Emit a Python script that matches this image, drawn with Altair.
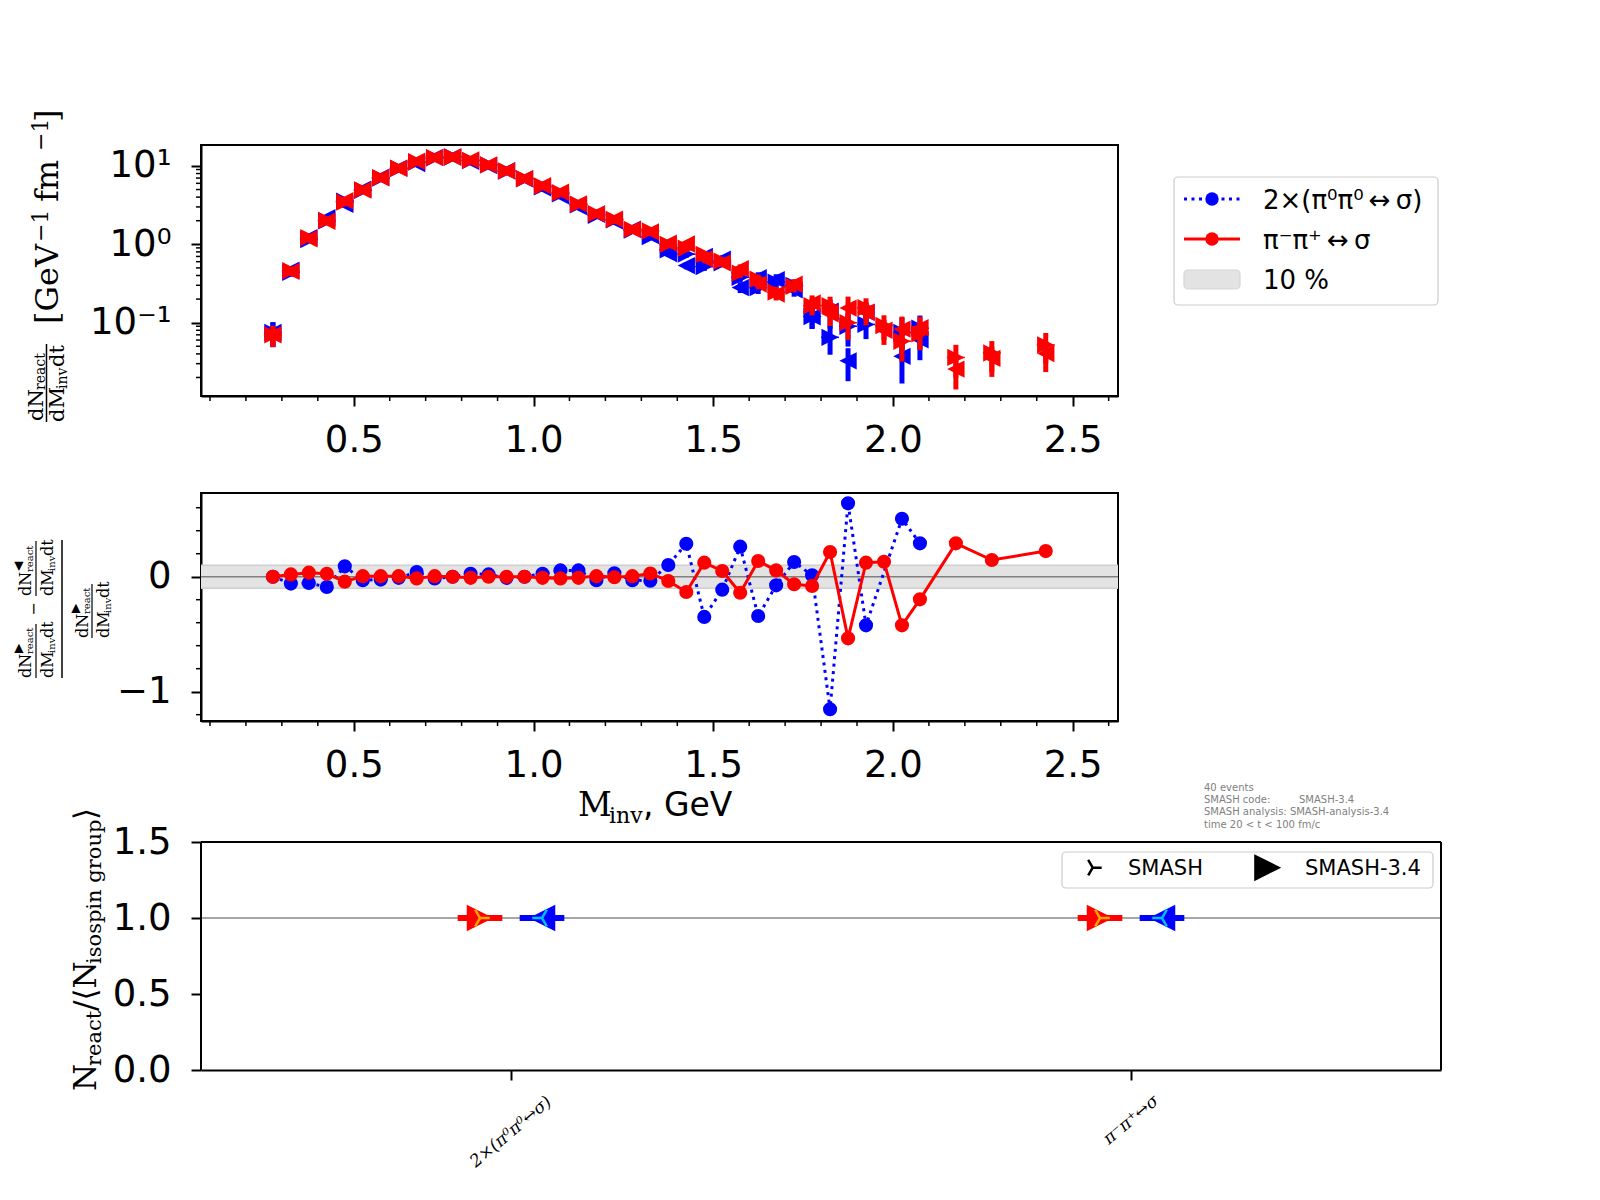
import altair as alt
import pandas as pd

# ---------------- data ----------------
X_BLUE = [0.275, 0.325, 0.375, 0.425, 0.475, 0.525, 0.575, 0.625, 0.675, 0.725,
          0.775, 0.825, 0.875, 0.925, 0.975, 1.025, 1.075, 1.125, 1.175, 1.225,
          1.275, 1.325, 1.375, 1.425, 1.475, 1.525, 1.575, 1.625, 1.675, 1.725,
          1.775, 1.825, 1.875, 1.925, 2.025, 2.075]
X_RED = [0.275, 0.325, 0.375, 0.425, 0.475, 0.525, 0.575, 0.625, 0.675, 0.725,
         0.775, 0.825, 0.875, 0.925, 0.975, 1.025, 1.075, 1.125, 1.175, 1.225,
         1.275, 1.325, 1.375, 1.425, 1.475, 1.525, 1.575, 1.625, 1.675, 1.725,
         1.775, 1.825, 1.875, 1.925, 1.975, 2.025, 2.075, 2.175, 2.275, 2.425]

# dN/dM dt of the forward reaction (right-pointing triangles)
BLUE_RATE = [0.075, 0.44, 1.15, 2.0, 3.55, 4.9, 7.0, 9.3, 11.2, 12.7,
             13.0, 11.7, 10.3, 8.6, 6.85, 5.4, 4.4, 3.2, 2.35, 2.05,
             1.52, 1.25, 0.85, 0.75, 0.52, 0.58, 0.38, 0.28, 0.33, 0.30,
             0.12, 0.065, 0.09, 0.095, 0.075, 0.085]
RED_RATE = [0.070, 0.46, 1.22, 2.02, 3.45, 4.95, 7.1, 9.35, 11.3, 12.8,
            13.0, 11.8, 10.3, 8.65, 6.9, 5.55, 4.55, 3.25, 2.46, 2.08,
            1.55, 1.48, 1.0, 0.89, 0.745, 0.61, 0.43, 0.36, 0.245, 0.29,
            0.165, 0.165, 0.10, 0.155, 0.092, 0.058, 0.072, 0.036, 0.041, 0.052]
# relative statistical errors
BLUE_ERR = [0.35, 0.12, 0.07, 0.05, 0.04, 0.04, 0.03, 0.03, 0.03, 0.03,
            0.03, 0.03, 0.03, 0.03, 0.04, 0.04, 0.04, 0.05, 0.05, 0.06,
            0.07, 0.08, 0.09, 0.10, 0.12, 0.12, 0.15, 0.17, 0.17, 0.18,
            0.30, 0.40, 0.45, 0.35, 0.55, 0.45]
RED_ERR = [0.30, 0.10, 0.06, 0.05, 0.04, 0.04, 0.03, 0.03, 0.03, 0.03,
           0.03, 0.03, 0.03, 0.03, 0.04, 0.04, 0.04, 0.05, 0.05, 0.06,
           0.07, 0.07, 0.08, 0.09, 0.10, 0.11, 0.13, 0.14, 0.17, 0.16,
           0.25, 0.30, 0.40, 0.32, 0.35, 0.45, 0.38, 0.45, 0.42, 0.42]
# (forward - backward) / forward
BLUE_DIFF = [0.0, -0.06, -0.055, -0.09, 0.09, -0.03, -0.025, -0.01, 0.04, -0.015,
             0.0, 0.025, 0.02, -0.01, 0.0, 0.025, 0.055, 0.055, -0.03, 0.03,
             -0.03, -0.035, 0.102, 0.287, -0.35, -0.113, 0.261, -0.342, -0.075, 0.128,
             0.012, -1.153, 0.638, -0.423, 0.504, 0.29]
RED_DIFF = [0.0, 0.02, 0.035, 0.025, -0.043, 0.005, 0.005, 0.005, -0.015, 0.005,
            0.0, -0.01, 0.0, 0.0, 0.0, -0.01, -0.015, -0.01, 0.005, -0.005,
            0.005, 0.028, -0.037, -0.133, 0.122, 0.05, -0.14, 0.137, 0.055, -0.066,
            -0.08, 0.215, -0.536, 0.122, 0.13, -0.423, -0.197, 0.29, 0.145, 0.223]

CATEGORIES = ["2×(π⁰π⁰↔σ)", "π⁻π⁺↔σ"]
RATIO_RED = [1.0, 1.0]
RATIO_BLUE = [1.0, 1.0]

X_TICKS = [0.5, 1.0, 1.5, 2.0, 2.5]
MINOR_X = [0.1, 0.2, 0.3, 0.4, 0.6, 0.7, 0.8, 0.9, 1.1, 1.2, 1.3, 1.4, 1.6, 1.7,
           1.8, 1.9, 2.1, 2.2, 2.3, 2.4, 2.6]
LOG_TICKS = [0.1, 1, 10]
MINOR_LOG = [0.02, 0.03, 0.04, 0.05, 0.06, 0.07, 0.08, 0.09,
             0.2, 0.3, 0.4, 0.5, 0.6, 0.7, 0.8, 0.9,
             2, 3, 4, 5, 6, 7, 8, 9]
MID_TICKS = [-1, 0]
MINOR_MID = [-1.2, -0.8, -0.6, -0.4, -0.2, 0.2, 0.4, 0.6]
BOT_TICKS = [0, 0.5, 1.0, 1.5]

LEGEND_TOP = ["2×(π⁰π⁰\u2009↔\u2009σ)", "π⁻π⁺\u2009↔\u2009σ", "10 %"]
LEGEND_BOT = ["SMASH", "SMASH-3.4"]
ANNOT = ["40 events", "SMASH code:", "SMASH analysis: SMASH-analysis-3.4",
         "time 20 < t < 100 fm/c"]

# ---------------- layout ----------------
SERIF = "DejaVu Serif"
SANS = "DejaVu Sans"
BLUE = "#0000ff"
RED = "#ff0000"
DUMMY = pd.DataFrame({"k": [0]})

TOP_W, TOP_H = 917, 251
MID_W, MID_H = 917, 228
BOT_W, BOT_H = 1240, 252
TOP_O = (200, 144)
MID_O = (200, 492)
BOT_O = (200, 817)

XS = alt.Scale(domain=[0.075, 2.626], nice=False, zero=False)
YS_T = alt.Scale(type="log", domain=[0.0116, 18.5], nice=False)
YS_M = alt.Scale(domain=[-1.255, 0.728], nice=False, zero=False)
XS_B = alt.Scale(domain=[-0.5, 1.5], nice=False, zero=False)
YS_B = alt.Scale(domain=[0, 1.658], nice=False, zero=False)

XAX = alt.Axis(values=X_TICKS, format=".1f", title=None, labelPadding=16)
YAX_T = alt.Axis(values=LOG_TICKS, title=None, labelPadding=20,
                 labelExpr="datum.value > 5 ? '10¹' : (datum.value > 0.5 ? '10⁰' : '10⁻¹')")
YAX_M = alt.Axis(values=MID_TICKS, title=None, labelPadding=20,
                 labelExpr="datum.value < -0.5 ? '−1' : '0'")
XAX_B = alt.Axis(values=[0, 1], labels=False, title=None)
YAX_B = alt.Axis(values=BOT_TICKS, format=".1f", title=None, labelPadding=20, domain=False)

TRI_R = "M-1,-1L1,0L-1,1Z"
TRI_L = "M1,-1L-1,0L1,1Z"
Y_R = "M0,0L1,0M0,0L-0.5,-0.866M0,0L-0.5,0.866"
Y_L = "M0,0L-1,0M0,0L0.5,-0.866M0,0L0.5,0.866"


def txt(origin, s, x, y, size, font=SERIF, angle=270, align="left",
        baseline="alphabetic", color="black", style="normal"):
    ox, oy = origin
    return alt.Chart(DUMMY).mark_text(
        text=s, font=font, fontSize=size, angle=angle, align=align,
        baseline=baseline, color=color, fontStyle=style
    ).encode(x=alt.value(x - ox), y=alt.value(y - oy))


def vbar(origin, x, y1, y2, w=1.3, color="black"):
    ox, oy = origin
    return alt.Chart(DUMMY).mark_rule(color=color, strokeWidth=w).encode(
        x=alt.value(x - ox), y=alt.value(y1 - oy), y2=alt.value(y2 - oy))


def hbar(origin, x1, x2, y, w=1.3, color="black", dash=None):
    ox, oy = origin
    kw = dict(color=color, strokeWidth=w)
    if dash is not None:
        kw["strokeDash"] = dash
    return alt.Chart(DUMMY).mark_rule(**kw).encode(
        x=alt.value(x1 - ox), x2=alt.value(x2 - ox), y=alt.value(y - oy))


def sym(origin, shape, x, y, size, color, filled=True, sw=1.0):
    ox, oy = origin
    return alt.Chart(DUMMY).mark_point(
        shape=shape, filled=filled, size=size, color=color, opacity=1, strokeWidth=sw
    ).encode(x=alt.value(x - ox), y=alt.value(y - oy))


def box(origin, x1, x2, y1, y2, fill="white", stroke="#cccccc"):
    ox, oy = origin
    return alt.Chart(DUMMY).mark_rect(
        fill=fill, stroke=stroke, strokeWidth=1.2, cornerRadius=4
    ).encode(x=alt.value(x1 - ox), x2=alt.value(x2 - ox),
             y=alt.value(y1 - oy), y2=alt.value(y2 - oy))


# ---------------- top panel ----------------
def top_df(xs, rate, err, diff):
    df = pd.DataFrame({"m": xs, "fwd": rate, "err": err, "diff": diff})
    df["bwd"] = df["fwd"] * (1 - df["diff"])
    df["lo_f"] = df["fwd"] * (1 - df["err"])
    df["hi_f"] = df["fwd"] * (1 + df["err"])
    df["lo_b"] = df["bwd"] * (1 - df["err"])
    df["hi_b"] = df["bwd"] * (1 + df["err"])
    df["ml"] = df["m"] - 0.025
    df["mr"] = df["m"] + 0.025
    return df


def top_series(df, color):
    b = alt.Chart(df)
    x = alt.X("m:Q", scale=XS, axis=XAX)
    out = []
    for lo, hi in (("lo_f", "hi_f"), ("lo_b", "hi_b")):
        out.append(b.mark_rule(color=color, strokeWidth=5).encode(
            x=x, y=alt.Y(f"{lo}:Q", scale=YS_T, axis=YAX_T), y2=f"{hi}:Q"))
    out.append(b.mark_rule(color=color, strokeWidth=1.5).encode(
        x=alt.X("ml:Q", scale=XS, axis=XAX), x2="mr:Q",
        y=alt.Y("fwd:Q", scale=YS_T, axis=YAX_T)))
    out.append(b.mark_point(shape=TRI_R, filled=True, size=300, color=color, opacity=1).encode(
        x=x, y=alt.Y("fwd:Q", scale=YS_T, axis=YAX_T)))
    out.append(b.mark_point(shape=TRI_L, filled=True, size=300, color=color, opacity=1).encode(
        x=x, y=alt.Y("bwd:Q", scale=YS_T, axis=YAX_T)))
    return out


df_tb = top_df(X_BLUE, BLUE_RATE, BLUE_ERR, BLUE_DIFF)
df_tr = top_df(X_RED, RED_RATE, RED_ERR, RED_DIFF)

T = TOP_O
top_layers = []
# white anchor fixing the top-left corner of the whole drawing at the page margin
top_layers.append(alt.Chart(DUMMY).mark_rule(color="white", strokeWidth=1).encode(
    x=alt.value(8.5 - T[0]), x2=alt.value(10 - T[0]), y=alt.value(8.5 - T[1])))
top_layers.append(alt.Chart(pd.DataFrame({"v": MINOR_X})).mark_rule(color="black", strokeWidth=1.5).encode(
    x=alt.X("v:Q", scale=XS, axis=XAX), y=alt.value(TOP_H), y2=alt.value(TOP_H + 5)))
top_layers.append(alt.Chart(pd.DataFrame({"v": MINOR_LOG})).mark_rule(color="black", strokeWidth=1.5).encode(
    y=alt.Y("v:Q", scale=YS_T, axis=YAX_T), x=alt.value(0), x2=alt.value(-5)))
top_layers += top_series(df_tb, BLUE)
top_layers += top_series(df_tr, RED)

# legend of top panel
top_layers += [
    box(T, 1173, 1437, 176, 304),
    hbar(T, 1183, 1239, 198, w=3, color=BLUE, dash=[3, 4.5]),
    sym(T, "circle", 1211, 198, 180, BLUE),
    txt(T, LEGEND_TOP[0], 1262, 208, 26, font=SANS, angle=0),
    hbar(T, 1183, 1239, 238, w=3, color=RED),
    sym(T, "circle", 1211, 238, 180, RED),
    txt(T, LEGEND_TOP[1], 1262, 248, 26, font=SANS, angle=0),
    box(T, 1183, 1239, 269, 288, fill="#e3e3e3", stroke="#d5d5d5"),
    txt(T, LEGEND_TOP[2], 1262, 288, 26, font=SANS, angle=0),
]
# y title of top panel
top_layers += [
    txt(T, "dN", 42, 420, 21),
    txt(T, "react", 44, 389, 14),
    vbar(T, 45.5, 343, 421, w=1.5),
    txt(T, "dM", 63, 421, 21),
    txt(T, "inv", 66, 388, 14),
    txt(T, "dt", 63, 366, 21),
    txt(T, "[GeV", 57, 323, 32),
    txt(T, "−1", 47, 241, 22),
    txt(T, "fm", 57, 201, 32),
    txt(T, "−1", 47, 150, 22),
    txt(T, "]", 57, 121, 32),
]

top = alt.layer(*top_layers).properties(width=TOP_W, height=TOP_H)

# ---------------- middle panel ----------------
df_mb = pd.DataFrame({"m": X_BLUE, "d": BLUE_DIFF})
df_mr = pd.DataFrame({"m": X_RED, "d": RED_DIFF})
xm = alt.X("m:Q", scale=XS, axis=XAX)
ym = alt.Y("d:Q", scale=YS_M, axis=YAX_M)

M = MID_O
mid_layers = [
    alt.Chart(pd.DataFrame({"lo": [-0.1], "hi": [0.1]})).mark_rect(color="#e3e3e3").encode(
        y=alt.Y("lo:Q", scale=YS_M, axis=YAX_M), y2="hi:Q", x=alt.value(0), x2=alt.value(MID_W)),
    alt.Chart(pd.DataFrame({"v": [-0.1, 0.1]})).mark_rule(color="#cfcfcf", strokeWidth=1.5).encode(
        y=alt.Y("v:Q", scale=YS_M, axis=YAX_M), x=alt.value(0), x2=alt.value(MID_W)),
    alt.Chart(pd.DataFrame({"v": [0.0]})).mark_rule(color="#808080", strokeWidth=1.5).encode(
        y=alt.Y("v:Q", scale=YS_M, axis=YAX_M), x=alt.value(0), x2=alt.value(MID_W)),
    alt.Chart(pd.DataFrame({"v": MINOR_X})).mark_rule(color="black", strokeWidth=1.5).encode(
        x=alt.X("v:Q", scale=XS, axis=XAX), y=alt.value(MID_H), y2=alt.value(MID_H + 5)),
    alt.Chart(pd.DataFrame({"v": MINOR_MID})).mark_rule(color="black", strokeWidth=1.5).encode(
        y=alt.Y("v:Q", scale=YS_M, axis=YAX_M), x=alt.value(0), x2=alt.value(-5)),
    alt.Chart(df_mb).mark_line(color=BLUE, strokeWidth=3, strokeDash=[3, 4.5]).encode(x=xm, y=ym),
    alt.Chart(df_mb).mark_point(shape="circle", filled=True, size=200, color=BLUE, opacity=1).encode(x=xm, y=ym),
    alt.Chart(df_mr).mark_line(color=RED, strokeWidth=3).encode(x=xm, y=ym),
    alt.Chart(df_mr).mark_point(shape="circle", filled=True, size=200, color=RED, opacity=1).encode(x=xm, y=ym),
]


def frac_pieces(o, nx, bx, dx, yb, yt, tri):
    return [
        txt(o, "dN", nx, yb, 16),
        txt(o, "react", nx + 2, yb - 24, 10),
        txt(o, tri, nx - 9, yb - 25, 12, font=SANS),
        vbar(o, bx, yt, yb, w=1.2),
        txt(o, "dM", dx, yb, 16),
        txt(o, "inv", dx + 2, yb - 25, 10),
        txt(o, "dt", dx, yb - 40, 16),
    ]


mid_layers += frac_pieces(M, 30, 35, 52, 677, 623, "▶")
mid_layers += frac_pieces(M, 30, 35, 52, 595, 540, "◀")
mid_layers += frac_pieces(M, 87, 91, 108, 637, 583, "▶")
mid_layers += [
    txt(M, "−", 38, 608, 16, align="center"),
    vbar(M, 61, 539, 677, w=1.5),
    # x title
    txt(M, "M", 577, 815, 33, angle=0),
    txt(M, "inv", 608, 822, 22, angle=0),
    txt(M, ", GeV", 642, 815, 33, font=SANS, angle=0),
]

mid = alt.layer(*mid_layers).properties(width=MID_W, height=MID_H)

# ---------------- bottom panel ----------------
df_cat = pd.DataFrame({"pos": [0, 1], "label": CATEGORIES,
                       "red": RATIO_RED, "blue": RATIO_BLUE})
df_cat["xr"] = df_cat["pos"] - 0.05
df_cat["xb"] = df_cat["pos"] + 0.05
df_cat["xr1"] = df_cat["xr"] - 0.036
df_cat["xr2"] = df_cat["xr"] + 0.036
df_cat["xb1"] = df_cat["xb"] - 0.036
df_cat["xb2"] = df_cat["xb"] + 0.036

yb = alt.Y("red:Q", scale=YS_B, axis=YAX_B)
ybl = alt.Y("blue:Q", scale=YS_B, axis=YAX_B)
B = BOT_O
cb = alt.Chart(df_cat)
bot_layers = [
    alt.Chart(pd.DataFrame({"v": [1.0]})).mark_rule(color="#888888", strokeWidth=1.5).encode(
        y=alt.Y("v:Q", scale=YS_B, axis=YAX_B), x=alt.value(0), x2=alt.value(BOT_W)),
    alt.Chart(pd.DataFrame({"v": [1.5]})).mark_rule(color="black", strokeWidth=2).encode(
        y=alt.Y("v:Q", scale=YS_B, axis=YAX_B), x=alt.value(0), x2=alt.value(BOT_W)),
    alt.Chart(pd.DataFrame({"a": [0.0], "b": [1.5]})).mark_rule(color="black", strokeWidth=2).encode(
        y=alt.Y("a:Q", scale=YS_B, axis=YAX_B), y2="b:Q", x=alt.value(0)),
    alt.Chart(pd.DataFrame({"a": [0.0], "b": [1.5]})).mark_rule(color="black", strokeWidth=2).encode(
        y=alt.Y("a:Q", scale=YS_B, axis=YAX_B), y2="b:Q", x=alt.value(BOT_W)),
    cb.mark_rule(color=RED, strokeWidth=6).encode(
        x=alt.X("xr1:Q", scale=XS_B, axis=XAX_B), x2="xr2:Q", y=yb),
    cb.mark_point(shape=TRI_R, filled=True, size=700, color=RED, opacity=1).encode(
        x=alt.X("xr:Q", scale=XS_B, axis=XAX_B), y=yb),
    cb.mark_point(shape=Y_R, filled=False, size=380, color="#ffa500", opacity=1, strokeWidth=2.5).encode(
        x=alt.X("xr:Q", scale=XS_B, axis=XAX_B), y=yb),
    cb.mark_rule(color=BLUE, strokeWidth=6).encode(
        x=alt.X("xb1:Q", scale=XS_B, axis=XAX_B), x2="xb2:Q", y=ybl),
    cb.mark_point(shape=TRI_L, filled=True, size=700, color=BLUE, opacity=1).encode(
        x=alt.X("xb:Q", scale=XS_B, axis=XAX_B), y=ybl),
    cb.mark_point(shape=Y_L, filled=False, size=380, color="#00bfff", opacity=1, strokeWidth=2.5).encode(
        x=alt.X("xb:Q", scale=XS_B, axis=XAX_B), y=ybl),
    alt.Chart(df_cat.iloc[[0]]).mark_text(
        font=SERIF, fontStyle="italic", fontSize=17, angle=320, align="center", baseline="middle"
    ).encode(x=alt.X("pos:Q", scale=XS_B, axis=XAX_B), y=alt.value(1131 - B[1]), text="label:N"),
    alt.Chart(df_cat.iloc[[1]]).mark_text(
        font=SERIF, fontStyle="italic", fontSize=17, angle=320, align="center", baseline="middle"
    ).encode(x=alt.X("pos:Q", scale=XS_B, axis=XAX_B), y=alt.value(1119 - B[1]), text="label:N"),
    # legend
    box(B, 1061, 1432, 851, 887),
    sym(B, Y_R, 1091.7, 866.7, 324, "black", filled=False, sw=2.5),
    txt(B, LEGEND_BOT[0], 1127, 874, 21, font=SANS, angle=0),
    sym(B, TRI_R, 1266.7, 866.7, 729, "black"),
    txt(B, LEGEND_BOT[1], 1304, 874, 21, font=SANS, angle=0),
    # annotation
    txt(B, ANNOT[0], 1203, 790, 10, font=SANS, angle=0, color="#808080"),
    txt(B, ANNOT[1], 1203, 802.3, 10, font=SANS, angle=0, color="#808080"),
    txt(B, "SMASH-3.4", 1298, 802.3, 10, font=SANS, angle=0, color="#808080"),
    txt(B, ANNOT[2], 1203, 814.3, 10, font=SANS, angle=0, color="#808080"),
    txt(B, ANNOT[3], 1203, 826.7, 10, font=SANS, angle=0, color="#808080"),
    # y title
    txt(B, "N", 95, 1090, 31),
    txt(B, "react", 100, 1065, 21),
    txt(B, "/⟨N", 95, 1010, 31),
    txt(B, "isospin group", 100, 963, 21),
    txt(B, "⟩", 95, 819, 31),
]

bot = alt.layer(*bot_layers).properties(
    width=BOT_W, height=BOT_H, view=alt.ViewBackground(strokeOpacity=0))

chart = alt.vconcat(top, mid, bot, spacing=97, bounds="flush").properties(
    padding=0,
).configure_view(stroke="black", strokeWidth=2).configure_axis(
    labelFont=SANS, labelFontSize=37, labelColor="black", tickColor="black",
    tickWidth=2, tickSize=10, domainColor="black", domainWidth=2, grid=False,
    labelFlush=False, labelOverlap=False,
)

chart.save("out.html", embed_options={"renderer": "svg", "actions": False})
